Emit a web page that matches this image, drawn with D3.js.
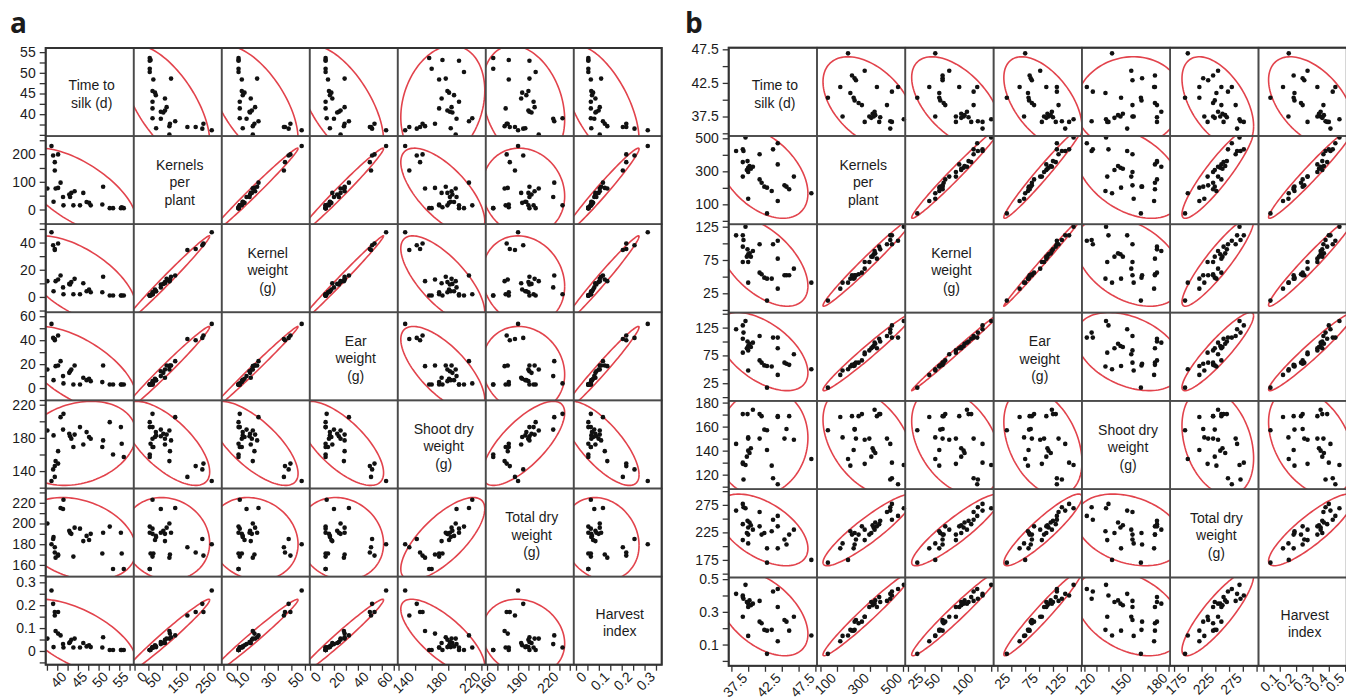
<!DOCTYPE html>
<html>
<head>
<meta charset="utf-8">
<script src="https://cdn.jsdelivr.net/npm/d3@7"></script>
<style>
body { margin: 0; background: #fff; }
svg text { font-family: "Liberation Sans", Arial, sans-serif; fill: #1b1b1b; }
</style>
</head>
<body>
<script>
// diagonal labels
var varLabels = [["Time to", "silk (d)"], ["Kernels", "per", "plant"], ["Kernel", "weight", "(g)"],
                 ["Ear", "weight", "(g)"], ["Shoot dry", "weight", "(g)"], ["Total dry", "weight", "(g)"],
                 ["Harvest", "index"]];

// ---- panel a : one value per plant, same order in every array
var aTime     = [35.1, 36.1, 36.6, 36.5, 36.9, 36.9, 37.7, 37.1, 37.7, 38.3, 39.0, 38.9, 40.4, 40.6, 40.9,
                 41.7, 41.4, 43.0, 43.8, 44.6, 45.2, 45.6, 48.6, 48.4, 50.2, 51.0, 52.9, 53.6, 53.1];
var aKernels  = [76, 229, 28, 195, 171, 141, 199, 76, 78, 97, 15, 45, 54, 45, 60,
                 66, 15, 15, 60, 27, 24, 15, 82, 18, 5, 5, 5, 5, 8];
var aKernelWt = [11.6, 47.6, 4.2, 38.0, 35.3, 34.5, 39.3, 11.6, 12.8, 15.8, 2.0, 7.0, 9.6, 9.2, 10.9,
                 13.3, 2.0, 2.0, 10.1, 4.2, 5.5, 3.5, 14.8, 3.5, 1.1, 1.1, 1.1, 1.1, 1.1];
var aEarWt    = [15.5, 53.6, 6.6, 41.9, 40.0, 41.0, 43.9, 18.3, 18.9, 22.5, 3.9, 10.0, 12.7, 14.1, 15.5,
                 18.9, 3.0, 3.0, 8.6, 6.6, 7.8, 5.8, 18.9, 5.0, 3.0, 3.0, 3.0, 3.0, 3.0];
var aShoot    = [189, 128, 183, 142, 146, 133, 149, 152, 164, 205, 209, 190, 185, 182, 179,
                 184, 169, 193, 172, 187, 181, 179, 177, 169, 199, 160, 193, 157, 173];
var aTotal    = [200, 180, 187, 185, 172, 177, 169, 167, 170, 215, 223, 214, 193, 191, 190,
                 196, 168, 195, 183, 188, 184, 190, 191, 171, 197, 156, 191, 156, 171];
var aHarvest  = [0.054, 0.264, 0.017, 0.206, 0.170, 0.155, 0.170, 0.087, 0.076, 0.068, 0.015, 0.030, 0.035, 0.039, 0.049,
                 0.054, 0.015, 0.015, 0.035, 0.020, 0.025, 0.017, 0.060, 0.015, 0.004, 0.004, 0.004, 0.004, 0.004];

var aDomains = [[34.7, 56], [-53, 265], [-11.3, 53.5], [-10.3, 63.3], [119, 225.2], [148.7, 233.8], [-0.06, 0.325]];
var aYLabels = [[40, 45, 50, 55], [0, 100, 200], [0, 20, 40], [0, 20, 40, 60], [140, 180, 220], [160, 180, 200, 220], [0, 0.1, 0.2, 0.3]];
var aXLabels = [[40, 45, 50, 55], [0, 50, 150, 250], [0, 10, 30, 50], [0, 20, 40, 60], [140, 180, 220], [160, 190, 220], [0, 0.1, 0.2, 0.3]];
var aSteps   = [2.5, 50, 10, 10, 20, 10, 0.05];

// ---- panel b
var bTime     = [35.7, 36.7, 36.8, 37.1, 39.2, 41.2, 41.9, 41.9, 36.7, 37.4, 37.5, 37.7, 37.9, 38.2, 37.3,
                 37.5, 36.7, 44.3, 39.2, 39.5, 39.9, 40.3, 41.0, 42.9, 43.2, 43.6, 41.9, 37.5, 46.9, 40.3];
var bKernels  = [423, 433, 423, 505, 403, 433, 470, 342, 356, 362, 322, 332, 316, 328, 308,
                 296, 268, 268, 251, 231, 207, 201, 181, 215, 207, 191, 120, 134, 167, 45];
var bKernelWt = [112, 112, 105, 125, 98.6, 98.6, 104, 77, 95, 91, 83.6, 85, 80, 88.6, 80,
                 72, 72, 62, 56, 53.6, 48.5, 47, 47, 52, 52, 52, 32, 41, 41, 14];
var bEarWt    = [122, 129, 116, 137, 110, 107, 107, 88, 105, 100, 92, 96, 90, 98, 88,
                 84, 80, 77, 66, 62, 57, 56, 55, 62, 60, 58, 40, 48, 50, 17];
var bShoot    = [145.6, 130, 116, 128, 150, 117, 112, 168.7, 170.4, 170.4, 140, 138, 142, 174, 135,
                 150, 129, 149, 170.4, 168.7, 157.5, 140.5, 127.5, 150, 158, 168.7, 168, 151, 133, 157];
var bTotal    = [264.6, 276.8, 270.8, 269, 262, 248, 255, 236, 240, 246, 234, 243, 238, 230, 224,
                 221, 211, 230, 236, 221, 224, 196, 227, 212, 203, 221, 196, 205, 175, 170];
var bHarvest  = [0.41, 0.40, 0.38, 0.465, 0.367, 0.424, 0.44, 0.33, 0.39, 0.36, 0.35, 0.37, 0.34, 0.35, 0.36,
                 0.33, 0.27, 0.27, 0.24, 0.23, 0.19, 0.185, 0.19, 0.25, 0.24, 0.185, 0.12, 0.153, 0.155, 0.043];

var bDomains = [[34.6, 47.74], [-21, 514], [-4, 128.6], [-6.8, 152], [107.9, 181.4], [143, 303.5], [-0.03, 0.51]];
var bYLabels = [[37.5, 42.5, 47.5], [100, 300, 500], [25, 75, 125], [25, 75, 125], [120, 140, 160, 180], [175, 225, 275], [0.1, 0.3, 0.5]];
var bXLabels = [[37.5, 42.5, 47.5], [100, 300, 500], [25, 50, 100], [25, 75, 125], [120, 150, 180], [175, 225, 275], [0.1, 0.2, 0.3, 0.4, 0.5]];
var bSteps   = [2.5, 100, 25, 25, 10, 25, 0.1];

var width = 1346, height = 700;
var svg = d3.select("body").append("svg").attr("width", width).attr("height", height);

var K = Math.sqrt(5.991); // 95% bivariate normal

function tickRange(dom, step) {
	var out = [];
	var start = Math.ceil(dom[0] / step - 1e-9);
	for (var i = start; i * step <= dom[1] + 1e-9; i++) out.push(+(i * step).toFixed(4));
	return out;
}

function isLabel(v, list) {
	return list.some(function(l) { return Math.abs(l - v) < 1e-6; });
}

function ellipsePts(xs, ys) {
	var mx = d3.mean(xs), my = d3.mean(ys);
	var n = xs.length, sxx = 0, syy = 0, sxy = 0;
	for (var i = 0; i < n; i++) {
		sxx += (xs[i] - mx) * (xs[i] - mx);
		syy += (ys[i] - my) * (ys[i] - my);
		sxy += (xs[i] - mx) * (ys[i] - my);
	}
	sxx /= n - 1; syy /= n - 1; sxy /= n - 1;
	var a = Math.sqrt(sxx), b = sxy / a, c = Math.sqrt(Math.max(syy - b * b, 0));
	return d3.range(0, 361, 3).map(function(deg) {
		var t = deg * Math.PI / 180;
		return [mx + K * a * Math.cos(t), my + K * (b * Math.cos(t) + c * Math.sin(t))];
	});
}

function drawPanel(id, cols, domains, yLabels, xLabels, steps, left, top, cw, ch) {
	var g = svg.append("g");
	var nv = cols.length;
	var xs = domains.map(function(d, j) { return d3.scaleLinear().domain(d).range([left + j * cw, left + (j + 1) * cw]); });
	var ys = domains.map(function(d, i) { return d3.scaleLinear().domain(d).range([top + (i + 1) * ch, top + i * ch]); });

	for (var i = 0; i < nv; i++) {
		for (var j = 0; j < nv; j++) {
			var x0 = left + j * cw, y0 = top + i * ch;
			if (i === j) {
				var lines = varLabels[i];
				var lh = 17.5;
				g.append("text")
					.attr("x", x0 + cw / 2 + 2)
					.attr("y", y0 + ch / 2 - (lines.length - 1) * lh / 2 + 5 + 2)
					.attr("text-anchor", "middle")
					.style("font-size", "14px")
					.selectAll("tspan").data(lines).enter().append("tspan")
					.attr("x", x0 + cw / 2 + 2)
					.attr("dy", function(d, k) { return k === 0 ? 0 : lh; })
					.text(function(d) { return d; });
				continue;
			}
			var cid = id + "c" + i + "_" + j;
			g.append("clipPath").attr("id", cid).append("rect")
				.attr("x", x0).attr("y", y0).attr("width", cw).attr("height", ch);
			var line = d3.line()
				.x(function(p) { return xs[j](p[0]); })
				.y(function(p) { return ys[i](p[1]); });
			g.append("path")
				.attr("d", line(ellipsePts(cols[j], cols[i])))
				.attr("clip-path", "url(#" + cid + ")")
				.attr("fill", "none")
				.attr("stroke", "#e2434c")
				.attr("stroke-width", 1.6);
			var pts = cols[j].map(function(v, k) { return [v, cols[i][k]]; });
			g.append("g").selectAll("circle").data(pts).enter().append("circle")
				.attr("cx", function(p) { return xs[j](p[0]); })
				.attr("cy", function(p) { return ys[i](p[1]); })
				.attr("r", 2.3)
				.attr("fill", "#111");
		}
	}

	// cell borders
	for (var i = 0; i < nv; i++) {
		for (var j = 0; j < nv; j++) {
			g.append("rect")
				.attr("x", left + j * cw).attr("y", top + i * ch)
				.attr("width", cw).attr("height", ch)
				.attr("fill", "none").attr("stroke", "#4a4a4a").attr("stroke-width", 1.6);
		}
	}
	g.append("rect").attr("x", left).attr("y", top).attr("width", cw * nv).attr("height", ch * nv)
		.attr("fill", "none").attr("stroke", "#333").attr("stroke-width", 2);

	// left axes
	domains.forEach(function(d, i) {
		var vals = tickRange(d, steps[i]);
		g.append("g")
			.attr("transform", "translate(" + left + ",0)")
			.call(d3.axisLeft(ys[i]).tickValues(vals).tickSize(6).tickPadding(4)
				.tickFormat(function(v) { return isLabel(v, yLabels[i]) ? String(v) : ""; }))
			.call(function(a) { a.select(".domain").remove(); })
			.call(function(a) {
				a.selectAll("line").attr("stroke", "#333").attr("stroke-width", 1.3);
				a.selectAll("text").style("font-size", "14px").style("font-family", "Liberation Sans, Arial, sans-serif").attr("fill", "#1b1b1b");
			});
	});

	// bottom axes
	var bottom = top + nv * ch;
	domains.forEach(function(d, j) {
		var vals = tickRange(d, steps[j]);
		g.append("g")
			.attr("transform", "translate(0," + bottom + ")")
			.call(d3.axisBottom(xs[j]).tickValues(vals).tickSize(6)
				.tickFormat(function(v) { return isLabel(v, xLabels[j]) ? String(v) : ""; }))
			.call(function(a) { a.select(".domain").remove(); })
			.call(function(a) {
				a.selectAll("line").attr("stroke", "#333").attr("stroke-width", 1.3);
				a.selectAll("text")
					.attr("x", -9.6).attr("y", 4).attr("dy", "0.35em")
					.attr("transform", "rotate(-45)")
					.style("text-anchor", "end")
					.style("font-size", "14px").style("font-family", "Liberation Sans, Arial, sans-serif")
					.attr("fill", "#1b1b1b");
			});
	});
}

drawPanel("a", [aTime, aKernels, aKernelWt, aEarWt, aShoot, aTotal, aHarvest],
	aDomains, aYLabels, aXLabels, aSteps, 45.7, 48, 88, 88.1);
drawPanel("b", [bTime, bKernels, bKernelWt, bEarWt, bShoot, bTotal, bHarvest],
	bDomains, bYLabels, bXLabels, bSteps, 728.7, 47.7, 88.3, 88.3);

svg.append("text").attr("x", 10).attr("y", 33).text("a")
	.style("font-family", "Open Sans, Liberation Sans, sans-serif").style("font-weight", "bold").style("font-size", "28px").attr("fill", "#000");
svg.append("text").attr("x", 685).attr("y", 33).text("b")
	.style("font-family", "Open Sans, Liberation Sans, sans-serif").style("font-weight", "bold").style("font-size", "28px").attr("fill", "#000");
</script>
</body>
</html>
